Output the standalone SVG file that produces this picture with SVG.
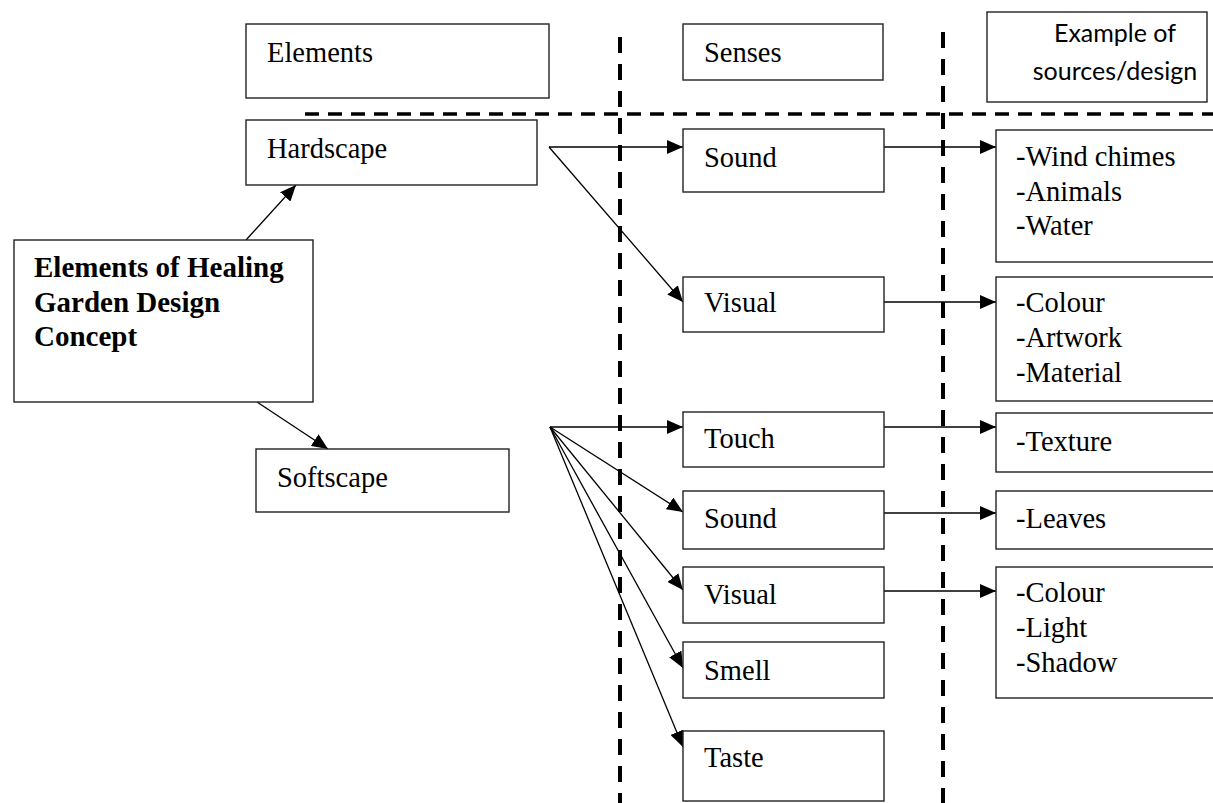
<svg xmlns="http://www.w3.org/2000/svg" width="1213" height="803" viewBox="0 0 1213 803">
<style>
.box{fill:#fff;stroke:#222;stroke-width:1.4}
.t{font-family:"Liberation Serif","Times New Roman",serif;font-size:28.5px;fill:#000}
.b{font-family:"Liberation Serif","Times New Roman",serif;font-size:29px;font-weight:bold;fill:#000}
.h{font-family:Lato,"Open Sans",sans-serif;font-size:25px;fill:#000;text-anchor:middle}
.c{stroke:#000;stroke-width:1.3;fill:none;marker-end:url(#ah)}
.dh{stroke:#000;stroke-width:3.5;stroke-dasharray:14 9;fill:none}
.dv{stroke:#000;stroke-width:4;stroke-dasharray:16 11;fill:none}
</style>
<defs>
<marker id="ah" markerUnits="userSpaceOnUse" markerWidth="16" markerHeight="14" refX="16" refY="7" orient="auto">
<path d="M0,0 L16,7 L0,14 z" fill="#000"/>
</marker>
</defs>
<rect width="1213" height="803" fill="#fff"/>
<g id="separators">
<line class="dh" x1="305" y1="114" x2="1213" y2="114"/>
<line class="dv" x1="620" y1="37" x2="620" y2="803"/>
<line class="dv" x1="943" y1="32" x2="943" y2="803"/>
</g>
<g id="connectors">
<line class="c" x1="246" y1="240" x2="296" y2="185"/>
<line class="c" x1="257" y1="402" x2="328" y2="449"/>
<line class="c" x1="549" y1="147" x2="683" y2="147"/>
<line class="c" x1="549" y1="147" x2="683" y2="302"/>
<line class="c" x1="550" y1="427" x2="683" y2="427"/>
<line class="c" x1="550" y1="427" x2="683" y2="512"/>
<line class="c" x1="550" y1="427" x2="683" y2="590"/>
<line class="c" x1="550" y1="427" x2="683" y2="668"/>
<line class="c" x1="550" y1="427" x2="683" y2="747"/>
<line class="c" x1="884" y1="147" x2="996" y2="147"/>
<line class="c" x1="884" y1="302" x2="996" y2="302"/>
<line class="c" x1="884" y1="427" x2="996" y2="427"/>
<line class="c" x1="884" y1="513" x2="996" y2="513"/>
<line class="c" x1="884" y1="591" x2="996" y2="591"/>
</g>
<g id="elements-header"><rect class="box" x="246" y="24" width="303" height="74"/><text class="t" x="267" y="62">Elements</text></g>
<g id="senses-header"><rect class="box" x="683" y="24" width="200" height="56"/><text class="t" x="704" y="62">Senses</text></g>
<g id="examples-header"><rect class="box" x="987" y="12" width="220" height="90"/><text class="h" x="1115" y="42">Example of</text><text class="h" x="1115" y="80">sources/design</text></g>
<g id="main"><rect class="box" x="14" y="240" width="299" height="162"/><text class="b" x="34" y="277">Elements of Healing</text><text class="b" x="34" y="312">Garden Design</text><text class="b" x="34" y="346">Concept</text></g>
<g id="hardscape"><rect class="box" x="246" y="120" width="291" height="65"/><text class="t" x="267" y="158">Hardscape</text></g>
<g id="softscape"><rect class="box" x="256" y="449" width="253" height="63"/><text class="t" x="277" y="487">Softscape</text></g>
<g id="sound1"><rect class="box" x="683" y="129" width="201" height="63"/><text class="t" x="704" y="167">Sound</text></g>
<g id="visual1"><rect class="box" x="683" y="277" width="201" height="55"/><text class="t" x="704" y="312">Visual</text></g>
<g id="touch"><rect class="box" x="683" y="412" width="201" height="55"/><text class="t" x="704" y="448">Touch</text></g>
<g id="sound2"><rect class="box" x="683" y="491" width="201" height="58"/><text class="t" x="704" y="528">Sound</text></g>
<g id="visual2"><rect class="box" x="683" y="567" width="201" height="56"/><text class="t" x="704" y="604">Visual</text></g>
<g id="smell"><rect class="box" x="683" y="642" width="201" height="56"/><text class="t" x="704" y="680">Smell</text></g>
<g id="taste"><rect class="box" x="683" y="731" width="201" height="70"/><text class="t" x="704" y="767">Taste</text></g>
<g id="ex-sound1"><rect class="box" x="996" y="130" width="224" height="132"/><text class="t" x="1016" y="166">-Wind chimes</text><text class="t" x="1016" y="201">-Animals</text><text class="t" x="1016" y="235">-Water</text></g>
<g id="ex-visual1"><rect class="box" x="996" y="277" width="224" height="124"/><text class="t" x="1016" y="312">-Colour</text><text class="t" x="1016" y="347">-Artwork</text><text class="t" x="1016" y="382">-Material</text></g>
<g id="ex-touch"><rect class="box" x="996" y="413" width="224" height="59"/><text class="t" x="1016" y="451">-Texture</text></g>
<g id="ex-sound2"><rect class="box" x="996" y="491" width="224" height="58"/><text class="t" x="1016" y="528">-Leaves</text></g>
<g id="ex-visual2"><rect class="box" x="996" y="567" width="224" height="131"/><text class="t" x="1016" y="602">-Colour</text><text class="t" x="1016" y="637">-Light</text><text class="t" x="1016" y="672">-Shadow</text></g>
</svg>
